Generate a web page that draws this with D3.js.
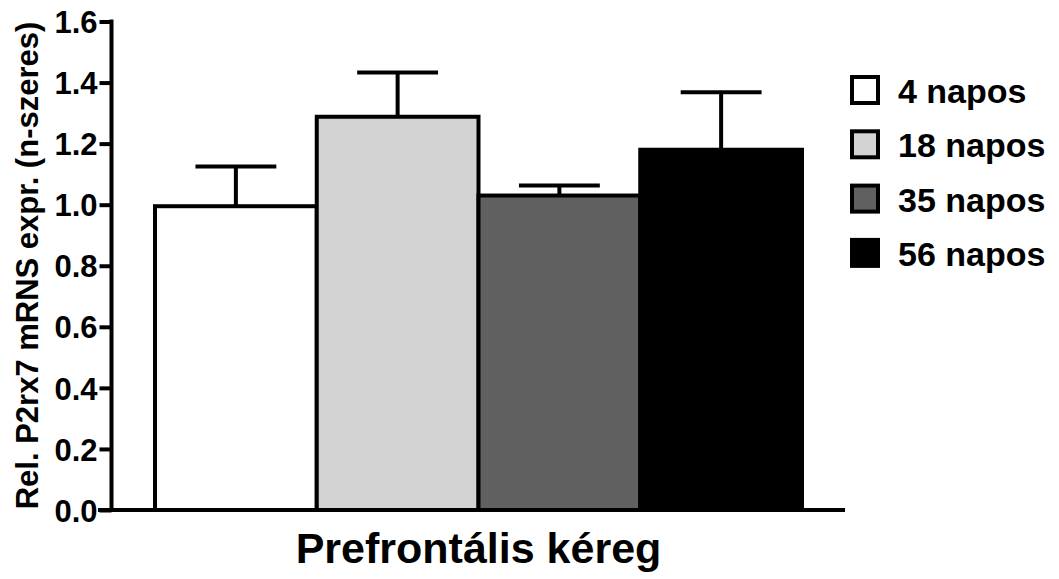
<!DOCTYPE html>
<html>
<head>
<meta charset="utf-8">
<script src="https://cdn.jsdelivr.net/npm/d3@7"></script>
<style>
  body { margin: 0; background: #fff; }
  text { font-family: "Liberation Sans", Arial, sans-serif; font-weight: bold; fill: #000; }
</style>
</head>
<body>
<div id="container"></div>
<script>
// Chart data
var groups = ["4 napos", "18 napos", "35 napos", "56 napos"];
var means = [0.995, 1.288, 1.030, 1.180];
var errors = [0.130, 0.145, 0.033, 0.188];
var fills = ["#ffffff", "#d3d3d3", "#606060", "#000000"];
var yTicks = [0.0, 0.2, 0.4, 0.6, 0.8, 1.0, 1.2, 1.4, 1.6];
var xTitle = "Prefrontális kéreg";
var yTitle = "Rel. P2rx7 mRNS expr. (n-szeres)";

var svg_width = 1059
var svg_height = 579

var svg = d3.select("#container")
    .append("svg")
    .attr("width", svg_width)
    .attr("height", svg_height)

// Scales
var y = d3.scaleLinear()
    .domain([0, 1.6])
    .range([510, 21.5]);

var x = d3.scaleBand()
    .domain(groups)
    .range([155, 802])
    .padding(0);

var axisX = 111.5;

// Bars
svg.append("g")
    .selectAll("rect")
    .data(groups)
    .enter()
    .append("rect")
    .attr("x", d => x(d))
    .attr("y", (d, i) => y(means[i]))
    .attr("width", x.bandwidth())
    .attr("height", (d, i) => y(0) - y(means[i]))
    .style("fill", (d, i) => fills[i])
    .style("stroke", "#000")
    .style("stroke-width", 4);

// Error bars (upper only)
var err = svg.append("g")
    .selectAll("g")
    .data(groups)
    .enter()
    .append("g");

err.append("line")
    .attr("x1", d => x(d) + x.bandwidth() / 2)
    .attr("x2", d => x(d) + x.bandwidth() / 2)
    .attr("y1", (d, i) => y(means[i]))
    .attr("y2", (d, i) => y(means[i] + errors[i]))
    .style("stroke", "#000")
    .style("stroke-width", 4);

err.append("line")
    .attr("x1", d => x(d) + x.bandwidth() / 4)
    .attr("x2", d => x(d) + x.bandwidth() * 3 / 4)
    .attr("y1", (d, i) => y(means[i] + errors[i]))
    .attr("y2", (d, i) => y(means[i] + errors[i]))
    .style("stroke", "#000")
    .style("stroke-width", 4);

// Y axis
var yAxis = d3.axisLeft(y)
    .tickValues(yTicks)
    .tickFormat(d3.format(".1f"))
    .tickSize(12)
    .tickPadding(2);

var gy = svg.append("g")
    .attr("transform", "translate(" + axisX + ",0)")
    .call(yAxis);

gy.select(".domain").remove();
gy.selectAll(".tick line").style("stroke", "#000").style("stroke-width", 4);
gy.selectAll(".tick text")
    .style("font-size", "31px")
    .attr("dy", "0.36em");

svg.append("line")
    .attr("x1", axisX).attr("x2", axisX)
    .attr("y1", y(1.6) - 2).attr("y2", y(0))
    .style("stroke", "#000").style("stroke-width", 4);

// X axis baseline
svg.append("line")
    .attr("x1", 98).attr("x2", 845)
    .attr("y1", y(0)).attr("y2", y(0))
    .style("stroke", "#000").style("stroke-width", 4);

// Titles
svg.append("text")
    .attr("x", (x.range()[0] + x.range()[1]) / 2)
    .attr("y", 563)
    .attr("text-anchor", "middle")
    .style("font-size", "43px")
    .text(xTitle);

svg.append("text")
    .attr("transform", "translate(38," + 265.5 + ") rotate(-90)")
    .attr("text-anchor", "middle")
    .style("font-size", "31px")
    .text(yTitle);

// Legend
var legend = svg.append("g")
    .selectAll("g")
    .data(groups)
    .enter()
    .append("g")
    .attr("transform", (d, i) => "translate(852," + (77 + i * 54.3) + ")");

legend.append("rect")
    .attr("width", 26)
    .attr("height", 26)
    .style("fill", (d, i) => fills[i])
    .style("stroke", "#000")
    .style("stroke-width", 4);

legend.append("text")
    .attr("x", 46)
    .attr("y", 26)
    .style("font-size", "34px")
    .text(d => d);
</script>
</body>
</html>
